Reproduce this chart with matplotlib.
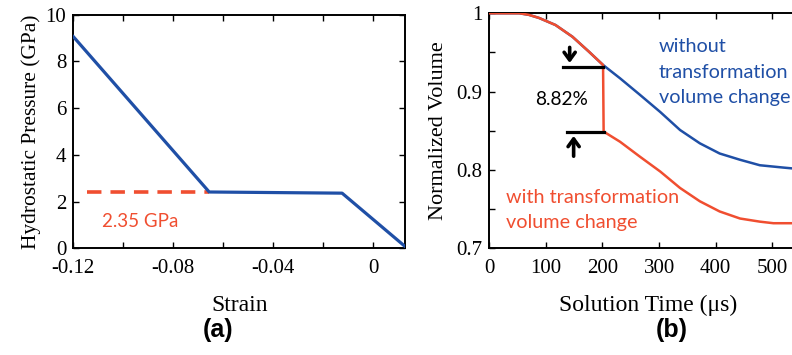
import numpy as np
import matplotlib
matplotlib.use('Agg')
import matplotlib.pyplot as plt

# (a) pressure vs strain
strain = [-0.12, -0.0656, -0.0124, 0.0128]
pressure = [9.06, 2.41, 2.36, 0.08]
dash_strain = [-0.1145, -0.0656]
dash_p = [2.40, 2.40]
a_xticks = [-0.12, -0.10, -0.08, -0.06, -0.04, -0.02, 0.0]
a_xlabels = ['-0.12', '', '-0.08', '', '-0.04', '', '0']
a_yticks = [0, 2, 4, 6, 8, 10]

# (b) normalized volume vs time
blue_t = [0, 53, 70, 88, 117, 147, 176, 201, 231, 266, 302, 337, 372, 407, 443, 478, 520, 535]
blue_v = [1.0, 1.0, 0.998, 0.994, 0.985, 0.970, 0.951, 0.934, 0.917, 0.896, 0.874, 0.851,
          0.834, 0.821, 0.813, 0.806, 0.803, 0.802]
red_t = [0, 53, 70, 88, 117, 147, 176, 201, 202, 231, 266, 302, 337, 372, 407, 443, 478, 502, 535]
red_v = [1.0, 1.0, 0.998, 0.994, 0.985, 0.970, 0.951, 0.934, 0.849, 0.836, 0.817, 0.798,
         0.777, 0.760, 0.747, 0.738, 0.734, 0.732, 0.732]
b_xticks = [0, 100, 200, 300, 400, 500]
b_yticks = [0.7, 0.75, 0.8, 0.85, 0.9, 0.95, 1.0]
b_ylabels = ['0.7', '', '0.8', '', '0.9', '', '1']

BLUE = '#1f4fa6'
RED = '#f04e30'
serif = 'Liberation Serif'
sans = 'Lato'

fig = plt.figure(figsize=(7.92, 3.55), dpi=100)
axa = fig.add_axes([0.0926, 0.3006, 0.4188, 0.658])
axb = fig.add_axes([0.6178, 0.3006, 0.4002, 0.662])


def style(ax):
    for s in ax.spines.values():
        s.set_linewidth(1.4)
    ax.tick_params(direction='in', top=True, right=True, length=4, width=1,
                   labelsize=15)
    ax.tick_params(axis='x', pad=8)
    ax.tick_params(axis='y', pad=5)
    for lab in ax.get_xticklabels() + ax.get_yticklabels():
        lab.set_fontfamily(serif)


# panel a
axa.plot(strain, pressure, color=BLUE, lw=2.3, zorder=3)
axa.plot(dash_strain, dash_p, color=RED, lw=2.6, ls=(0, (4, 2.5)), zorder=2)
axa.text(-0.1085, 1.14, '2.35 GPa', color=RED, fontsize=13.5, family=sans,
         ha='left', va='center')
axa.set_xlim(-0.12, 0.0128)
axa.set_ylim(0, 10)
axa.set_xticks(a_xticks)
axa.set_xticklabels(a_xlabels)
axa.set_yticks(a_yticks)
style(axa)
axa.set_ylabel('Hydrostatic Pressure (GPa)', family=serif, fontsize=15.4, labelpad=3)
axa.set_xlabel('Strain', family=serif, fontsize=17, labelpad=12)

# panel b
axb.plot(blue_t, blue_v, color=BLUE, lw=1.8, zorder=2)
axb.plot(red_t, red_v, color=RED, lw=1.8, zorder=3)
axb.set_xlim(0, 560)
axb.set_ylim(0.7, 1.0)
axb.set_xticks(b_xticks)
axb.set_yticks(b_yticks)
axb.set_yticklabels(b_ylabels)
style(axb)
axb.set_ylabel('Normalized Volume', family=serif, fontsize=16, labelpad=6)
axb.set_xlabel('Solution Time (\u03bcs)', family=serif, fontsize=17, labelpad=12)

# 8.82% marker
axb.plot([131, 201], [0.931, 0.931], color='black', lw=2.3, zorder=4)
axb.plot([137, 203], [0.849, 0.849], color='black', lw=2.3, zorder=4)
axb.annotate('', xy=(142, 0.933), xytext=(142, 0.960),
             arrowprops=dict(arrowstyle='->,head_length=0.55,head_width=0.4', lw=2.6, color='black'))
axb.annotate('', xy=(149, 0.847), xytext=(149, 0.814),
             arrowprops=dict(arrowstyle='->,head_length=0.55,head_width=0.4', lw=2.6, color='black'))
axb.text(128, 0.89, '8.82%', fontsize=13.8, family=sans, ha='center', va='center')

axb.text(300, 0.925, 'without\ntransformation\nvolume change', color=BLUE, fontsize=14.3,
         family=sans, ha='left', va='center', linespacing=1.6)
axb.text(30, 0.749, 'with transformation\nvolume change', color=RED, fontsize=14.3,
         family=sans, ha='left', va='center', linespacing=1.6)

fig.text(0.275, 0.07, '(a)', fontsize=18, fontweight='bold', family='Liberation Sans',
         ha='center', va='center')
fig.text(0.848, 0.07, '(b)', fontsize=18, fontweight='bold', family='Liberation Sans',
         ha='center', va='center')

fig.savefig('out.png', dpi=100, facecolor='white')
